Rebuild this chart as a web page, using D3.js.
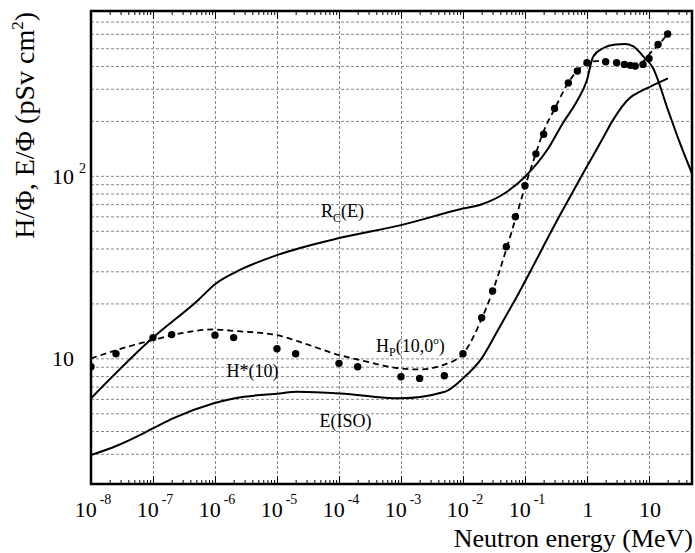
<!DOCTYPE html>
<html>
<head>
<meta charset="utf-8">
<script src="https://cdn.jsdelivr.net/npm/d3@7"></script>
<style>
  body { margin: 0; background: #fff; }
  text { font-family: "Liberation Serif", "Times New Roman", serif; fill: #000; }
</style>
</head>
<body>
<div id="chart"></div>
<script>
// R_C(E) curve (solid)
const energyRC = [1e-8, 1e-7, 5.38e-7, 1e-6, 2.53e-6, 1e-5, 1e-4, 1e-3, 1e-2, 0.0202, 0.0513, 0.1, 0.226, 0.41, 0.69, 1.0, 1.25, 1.81, 2.9, 4.1, 5.5, 8, 11.6, 20.2, 31.6, 49.4];
const valueRC = [6.04, 13.0, 20.9, 25.5, 30.5, 36.8, 45.6, 53.7, 66.2, 69.9, 81.8, 98.9, 138, 195, 257, 335, 448, 500, 524, 527, 514, 453, 390, 230, 151, 103];

// E(ISO) curve (solid)
const energyISO = [1e-8, 2.6e-8, 1e-7, 2.1e-7, 9.3e-7, 2.1e-6, 1.1e-5, 2.1e-5, 1.04e-4, 9.6e-4, 5.1e-3, 1e-2, 0.02, 0.0367, 0.069, 0.367, 0.93, 1.81, 2.62, 4.94, 7.16, 13.5, 20.2];
const valueISO = [2.95, 3.32, 4.13, 4.69, 5.66, 6.05, 6.43, 6.56, 6.43, 6.04, 6.56, 7.77, 10.0, 14.3, 20.9, 61, 108, 161, 202, 268, 289, 321, 342];

// Hp(10,0deg) curve (dashed)
const energyHp = [1e-8, 4.75e-8, 1e-7, 3.05e-7, 9.3e-7, 2.26e-6, 1e-5, 2.35e-5, 1.04e-4, 2.18e-4, 9.6e-4, 2.0e-3, 4.75e-3, 1e-2, 0.0202, 0.0294, 0.0513, 0.0716, 0.1, 0.15, 0.195, 0.305, 0.494, 0.716, 1.0, 1.45, 2.1, 4.1, 6.4, 8.0, 10.4, 15.0, 20.2];
const valueHp = [10.0, 11.8, 12.6, 13.8, 14.4, 14.1, 13.4, 12.3, 10.4, 9.79, 8.81, 8.7, 9.19, 10.6, 16.6, 22.8, 40.8, 59.4, 86.9, 133, 172, 235, 322, 380, 415, 425, 420, 408, 396, 422, 469, 532, 604];

// H*(10) points
const energyHstar = [1e-8, 2.53e-8, 1e-7, 2e-7, 1e-6, 2e-6, 1e-5, 2e-5, 1e-4, 2e-4, 1e-3, 2e-3, 5e-3, 1e-2, 2e-2, 3e-2, 5e-2, 7e-2, 0.1, 0.15, 0.2, 0.3, 0.5, 0.7, 1, 2, 3, 4, 5, 6, 8, 10, 14, 20];
const valueHstar = [9.0, 10.6, 13.0, 13.5, 13.4, 13.0, 11.3, 10.6, 9.39, 9.0, 7.93, 7.77, 8.03, 10.6, 16.7, 23.4, 40.9, 59.7, 88.3, 132, 169, 234, 323, 375, 417, 422, 417, 408, 403, 400, 408, 440, 524, 598];

// axis ticks
const xTickValues = [1e-8, 1e-7, 1e-6, 1e-5, 1e-4, 1e-3, 1e-2, 1e-1, 1, 10];
const xTickBase = ['10', '10', '10', '10', '10', '10', '10', '10', '1', '10'];
const xTickExp = ['-8', '-7', '-6', '-5', '-4', '-3', '-2', '-1', '', ''];
const yTickValues = [10, 100];
const yTickExp = ['', '2'];
const yGridValues = [3, 4, 5, 6, 7, 8, 9, 10, 20, 30, 40, 50, 60, 70, 80, 90, 100, 200, 300, 400, 500, 600, 700];

const margin = { top: 11, right: 3, bottom: 69, left: 91 };
const width = 695 - margin.left - margin.right;
const height = 553 - margin.top - margin.bottom;

const x = d3.scaleLog().domain([1e-8, 49.4]).range([0, width]);
const y = d3.scaleLog().domain([2.05, 800]).range([height, 0]);

const svg = d3.select('#chart').append('svg')
  .attr('width', 695)
  .attr('height', 553)
  .append('g')
  .attr('transform', `translate(${margin.left},${margin.top})`);

// minor tick values 2..9 per decade
const xMinor = [];
for (let k = -8; k <= 1; k++) {
  for (let m = 2; m <= 9; m++) {
    const v = m * Math.pow(10, k);
    if (v < 49.4) xMinor.push(v);
  }
}

// Grid
svg.append('g')
  .call(d3.axisLeft(y).tickValues(yGridValues).tickSize(-width).tickFormat(''))
  .call(g => g.select('.domain').remove())
  .selectAll('line')
  .attr('stroke', '#888')
  .attr('stroke-dasharray', '3,2');

svg.append('g')
  .attr('transform', `translate(0,${height})`)
  .call(d3.axisBottom(x).tickValues(xTickValues.slice(1)).tickSize(-height).tickFormat(''))
  .call(g => g.select('.domain').remove())
  .selectAll('line')
  .attr('stroke', '#888')
  .attr('stroke-dasharray', '3,2');

// Ticks on bottom and top
function tickAxis(axis, y0) {
  svg.append('g')
    .attr('transform', `translate(0,${y0})`)
    .call(axis)
    .call(g => g.select('.domain').remove())
    .selectAll('line')
    .attr('stroke', '#000')
    .attr('stroke-width', 1);
}
tickAxis(d3.axisBottom(x).tickValues(xMinor).tickSize(-4).tickFormat(''), height);
tickAxis(d3.axisBottom(x).tickValues(xTickValues).tickSize(-8).tickFormat(''), height);
tickAxis(d3.axisTop(x).tickValues(xMinor).tickSize(-4).tickFormat(''), 0);
tickAxis(d3.axisTop(x).tickValues(xTickValues).tickSize(-8).tickFormat(''), 0);

// X tick labels with superscripts
const xLabels = svg.append('g')
  .selectAll('text')
  .data(xTickValues.map((v, i) => ({ v, base: xTickBase[i], exp: xTickExp[i] })))
  .join('text')
  .attr('x', d => x(d.v) + (d.exp ? 2 : 1))
  .attr('y', height + 33)
  .attr('text-anchor', 'middle')
  .style('font-size', '22px');
xLabels.append('tspan').text(d => d.base);
xLabels.filter(d => d.exp).append('tspan')
  .attr('dx', 3)
  .attr('dy', -13)
  .style('font-size', '14px')
  .text(d => d.exp);

// Y tick labels
const yLabels = svg.append('g')
  .selectAll('g')
  .data(yTickValues.map((v, i) => ({ v, exp: yTickExp[i] })))
  .join('g');
yLabels.append('text')
  .attr('x', -17)
  .attr('y', d => y(d.v) + 8)
  .attr('text-anchor', 'end')
  .style('font-size', '22px')
  .text('10');
yLabels.filter(d => d.exp).append('text')
  .attr('x', -12)
  .attr('y', d => y(d.v) - 3)
  .style('font-size', '14px')
  .text(d => d.exp);

// Curves
svg.append('clipPath').attr('id', 'clip')
  .append('rect').attr('width', width).attr('height', height);

const plot = svg.append('g').attr('clip-path', 'url(#clip)');

const line = d3.line()
  .x(d => x(d[0]))
  .y(d => y(d[1]))
  .curve(d3.curveMonotoneX);

plot.append('path')
  .datum(d3.zip(energyRC, valueRC))
  .attr('fill', 'none')
  .attr('stroke', '#000')
  .attr('stroke-width', 2)
  .attr('d', line);

plot.append('path')
  .datum(d3.zip(energyISO, valueISO))
  .attr('fill', 'none')
  .attr('stroke', '#000')
  .attr('stroke-width', 2)
  .attr('d', line);

plot.append('path')
  .datum(d3.zip(energyHp, valueHp))
  .attr('fill', 'none')
  .attr('stroke', '#000')
  .attr('stroke-width', 1.8)
  .attr('stroke-dasharray', '6,4')
  .attr('d', line);

plot.append('g')
  .selectAll('circle')
  .data(d3.zip(energyHstar, valueHstar))
  .join('circle')
  .attr('cx', d => x(d[0]))
  .attr('cy', d => y(d[1]))
  .attr('r', 3.7)
  .attr('fill', '#000');

// Frame
svg.append('rect')
  .attr('width', width)
  .attr('height', height)
  .attr('fill', 'none')
  .attr('stroke', '#000')
  .attr('stroke-width', 2.5);

// Curve labels
const rc = svg.append('text').attr('x', 230).attr('y', 205.7).style('font-size', '18px');
rc.append('tspan').text('R');
rc.append('tspan').attr('dy', 5).style('font-size', '12px').text('C');
rc.append('tspan').attr('dy', -5).text('(E)');

const hp = svg.append('text').attr('x', 285).attr('y', 340.7).style('font-size', '18px');
hp.append('tspan').text('H');
hp.append('tspan').attr('dy', 4).style('font-size', '12px').text('P');
hp.append('tspan').attr('dy', -4).text('(10,0');
hp.append('tspan').attr('dy', -8).style('font-size', '11px').text('o');
hp.append('tspan').attr('dy', 8).text(')');

svg.append('text').attr('x', 135.5).attr('y', 366.3).style('font-size', '18px').text('H*(10)');
svg.append('text').attr('x', 228.5).attr('y', 415.7).style('font-size', '18px').text('E(ISO)');

// Axis titles
svg.append('text')
  .attr('x', width + 1)
  .attr('y', height + 63)
  .attr('text-anchor', 'end')
  .style('font-size', '26px')
  .text('Neutron energy (MeV)');

const yTitle = svg.append('text')
  .attr('transform', `translate(${34 - margin.left},${12 - margin.top}) rotate(-90)`)
  .attr('text-anchor', 'end')
  .style('font-size', '28px');
yTitle.append('tspan').text('H/Φ, E/Φ (pSv cm');
yTitle.append('tspan').attr('dy', -11).style('font-size', '17px').text('2');
yTitle.append('tspan').attr('dy', 11).text(')');
</script>
</body>
</html>
